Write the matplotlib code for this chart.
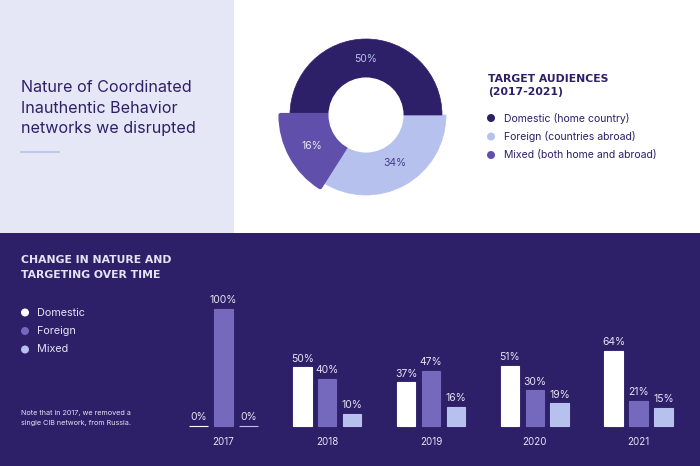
import numpy as np
import matplotlib
matplotlib.use('Agg')
import matplotlib.pyplot as plt
from matplotlib.patches import Wedge, Rectangle, Circle

plt.rcParams['font.family'] = ['Inter', 'DejaVu Sans']

DARK = '#2e2068'
PANEL = '#e6e7f6'
LIGHT = '#b7c1ed'
MID = '#6150ab'
BAR_MID = '#7469bd'
TXT = '#e4e3f4'

# donut data
donut_names = ['Domestic', 'Foreign', 'Mixed']
donut_vals = [50, 34, 16]

# bars data
years = ['2017', '2018', '2019', '2020', '2021']
domestic = [0, 50, 37, 51, 64]
foreign = [100, 40, 47, 30, 21]
mixed = [0, 10, 16, 19, 15]

legend_top = ['Domestic (home country)', 'Foreign (countries abroad)', 'Mixed (both home and abroad)']
legend_bottom = ['Domestic', 'Foreign', 'Mixed']


def py(y):
    # picture rows run downwards
    return 466 - y


def draw_donut(ax):
    cx, cy = 366, py(115)
    start = 0
    # dark half on top, light going clockwise, mixed last and on top
    dark_deg = donut_vals[0] * 3.6
    light_deg = donut_vals[1] * 3.6
    mixed_deg = donut_vals[2] * 3.6
    ax.add_patch(Wedge((cx, cy), 80, start - light_deg, start, width=42.5, fc=LIGHT, ec=LIGHT, lw=0.5))
    ax.add_patch(Wedge((cx, cy), 76, start, start + dark_deg, width=38.5, fc=DARK, ec=DARK, lw=0.5))
    ax.add_patch(Wedge((cx, cy), 85.5, 180, 180 + mixed_deg, width=48, fc=MID, ec=MID, lw=3, joinstyle='round'))
    ax.add_patch(Circle((cx, cy), 37.5, fc='white', ec='none'))
    ax.text(366, py(59), '%d%%' % donut_vals[0], color=LIGHT, fontsize=7.5, ha='center', va='center')
    ax.text(395, py(163), '%d%%' % donut_vals[1], color='#4a3d8f', fontsize=7.5, ha='center', va='center')
    ax.text(312, py(146), '%d%%' % donut_vals[2], color=PANEL, fontsize=7.5, ha='center', va='center')


def draw_text(ax):
    for i, line in enumerate(['Nature of Coordinated', 'Inauthentic Behavior', 'networks we disrupted']):
        ax.text(21, py(88 + 20.5 * i), line, color=DARK, fontsize=11.6, va='center')
    ax.plot([21, 59], [py(152), py(152)], color=LIGHT, lw=1.2)

    # headings are letter spaced in the original, DejaVu bold is the closest in width
    ax.text(488, py(79), 'TARGET AUDIENCES', color=DARK, fontsize=7.8, fontweight='bold',
            family='DejaVu Sans', va='center')
    ax.text(488, py(92), '(2017-2021)', color=DARK, fontsize=7.8, fontweight='bold',
            family='DejaVu Sans', va='center')
    for i, (name, c) in enumerate(zip(legend_top, [DARK, LIGHT, MID])):
        y = py(118 + 18.5 * i)
        ax.add_patch(Circle((491, y), 4, fc=c, ec='none'))
        ax.text(504, y, name, color=DARK, fontsize=7.55, va='center')

    ax.text(21, py(260), 'CHANGE IN NATURE AND', color=TXT, fontsize=7.8, fontweight='bold',
            family='DejaVu Sans', va='center')
    ax.text(21, py(275), 'TARGETING OVER TIME', color=TXT, fontsize=7.8, fontweight='bold',
            family='DejaVu Sans', va='center')
    for i, (name, c) in enumerate(zip(legend_bottom, ['white', BAR_MID, LIGHT])):
        y = py(312.5 + 18.5 * i)
        ax.add_patch(Circle((25, y), 4, fc=c, ec='none'))
        ax.text(37, y, name, color=TXT, fontsize=7.8, va='center')

    ax.text(21, py(413), 'Note that in 2017, we removed a', color=TXT, fontsize=5.2, va='center')
    ax.text(21, py(423), 'single CIB network, from Russia.', color=TXT, fontsize=5.2, va='center')


def draw_bars(ax):
    x = np.arange(len(years))
    off = 25 / 103.75
    w = 18.5 / 103.75
    for vals, dx, c in [(domestic, -off, 'white'), (foreign, 0, BAR_MID), (mixed, off, LIGHT)]:
        bars = ax.bar(x + dx, vals, w, color=c, ec=c, lw=0.8, clip_on=False)
        ax.bar_label(bars, labels=['%d%%' % v for v in vals], padding=2.5, color=TXT, fontsize=7.5)
    ax.set_xticks(x)
    ax.set_xticklabels(years, color=TXT, fontsize=7)
    ax.tick_params(axis='x', length=0, pad=8)
    ax.set_yticks([])
    for s in ax.spines.values():
        s.set_visible(False)
    ax.patch.set_alpha(0)


def main():
    fig = plt.figure(figsize=(7, 4.66), dpi=100, facecolor='white')

    ax = fig.add_axes([0, 0, 1, 1])
    ax.set_xlim(0, 700)
    ax.set_ylim(0, 466)
    ax.axis('off')
    ax.add_patch(Rectangle((0, py(233)), 233.5, 233, fc=PANEL, ec='none'))
    ax.add_patch(Rectangle((0, 0), 700, py(233), fc=DARK, ec='none'))
    draw_donut(ax)
    draw_text(ax)

    # bar axes sits on the plum panel, 2017 centre at px 223.5
    left = 180
    ax2 = fig.add_axes([left / 700, py(425.5) / 466, 520 / 700, 136 / 466])
    ax2.set_xlim((left - 223.5) / 103.75, (700 - 223.5) / 103.75)
    ax2.set_ylim(0, 136 / 1.17)
    draw_bars(ax2)

    fig.savefig('out.png', dpi=100)


if __name__ == '__main__':
    main()
